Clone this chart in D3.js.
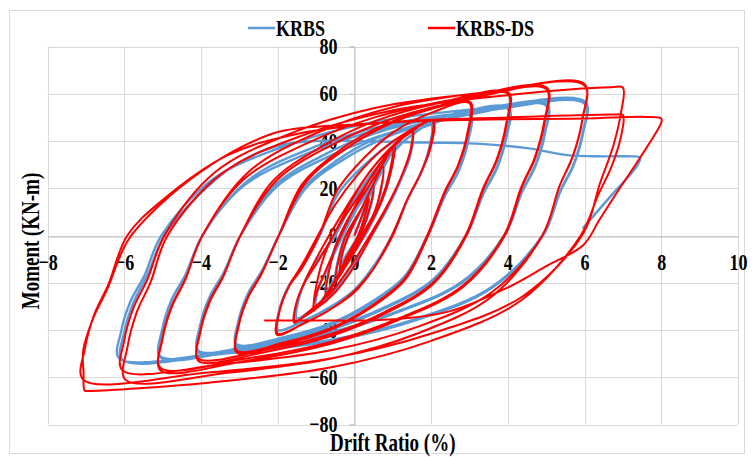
<!DOCTYPE html>
<html>
<head>
<meta charset="utf-8">
<script src="https://cdn.jsdelivr.net/npm/d3@7"></script>
<style>
  body { margin: 0; background: #fff; }
  text { font-family: "Liberation Serif", "Times New Roman", serif; font-weight: bold; fill: #000; }
</style>
</head>
<body>
<div id="chart"></div>
<script>
const W = 753, H = 457;
const margin = { top: 46.5, right: 15, bottom: 32.5, left: 47.5 };

const xTicks = [-8, -6, -4, -2, 0, 2, 4, 6, 8, 10];
const yTicks = [-80, -60, -40, -20, 0, 20, 40, 60, 80];
const seriesNames = ["KRBS", "KRBS-DS"];
const seriesColors = ["#5B9BD5", "#FF0000"];

// KRBS: drift ratio (%), moment (kN-m)
const krbs = [
  [0,0],[0.2,8],[0.375,15],
  [0.3,9.5],[0.1,0],[-0.2,-8],[-0.375,-13],
  [-0.3,-6],[-0.15,0],[0.2,11],[0.5,19],
  [0.42,12],[0.2,2],[-0.2,-9],[-0.5,-18],
  [-0.42,-10],[-0.25,-1],[0.2,11],[0.75,27],
  [0.68,18],[0.5,8],[0.1,-2],[-0.3,-12],[-0.75,-24],
  [-0.66,-14],[-0.48,-4],[-0.2,5],[0.3,17],[0.7,27],[1,35],
  [0.92,25],[0.7,14],[0.35,2],[0,-7],[-0.5,-19],[-1,-30],
  [-0.95,-23],[-0.7,-14],[-0.3,0],[0.15,14],[0.6,27],[1.0,35],[1.5,42],
  [1.46,34],[1.2,23],[0.85,11],[0.45,0],[0,-12],[-0.5,-23],[-1.0,-30],[-1.5,-35],
  [-1.45,-27],[-1.25,-18],[-0.9,-9],[-0.5,0],[-0.05,14],[0.45,26],[0.95,35],[1.45,42],[2.0,47],
  [1.95,37],[1.72,26],[1.38,15],[0.98,0],[0.5,-13],[0,-23],[-0.6,-30],[-1.3,-36],[-2.0,-40],
  [-1.95,-31],[-1.7,-21],[-1.35,-13],[-0.9,0],[-0.43,17.5],[0.27,30],[1.05,40],[2.0,47],[3,51],
  [2.95,40],[2.7,27],[2.35,17],[1.9,0],[1.3,-17.5],[0.41,-28.5],[-0.59,-37],[-1.83,-43],[-3.07,-46],
  [-3.02,-36],[-2.77,-24.4],[-2.42,-15.2],[-1.97,0],[-1.37,19.4],[-0.47,31.6],[0.52,40.8],[1.77,47.4],[3.02,51.5],
  [2.97,40.2],[2.72,27.3],[2.37,17],[1.92,0],[1.32,-17.9],[0.42,-29.1],[-0.58,-37.6],[-1.82,-43.7],[-3.07,-47],
  [-3.02,-36.7],[-2.77,-24.9],[-2.42,-15.5],[-1.97,0],[-1.25,20.3],[-0.18,33.2],[1.02,42.8],[2.51,49.8],[4,53.5],
  [3.95,41.7],[3.7,28.4],[3.35,17.7],[2.9,0],[2.06,-18.5],[0.81,-30.2],[-0.59,-39],[-2.33,-45.3],[-4.07,-48.7],
  [-4.02,-38],[-3.77,-25.8],[-3.42,-16.1],[-2.97,0],[-2.13,20.5],[-0.87,33.5],[0.53,43.2],[2.27,50.2],[4.02,54],
  [3.97,42.1],[3.72,28.6],[3.37,17.8],[2.92,0],[2.08,-18.8],[0.82,-30.7],[-0.57,-39.6],[-2.32,-46],[-4.07,-49.5],
  [-4.02,-38.6],[-3.77,-26.2],[-3.42,-16.3],[-2.97,0],[-2.01,20.9],[-0.58,34.1],[1.02,44],[3.0,51.2],[5,55],
  [4.95,42.9],[4.7,29.2],[4.35,18.2],[3.9,0],[2.82,-19.4],[1.21,-31.6],[-0.58,-40.8],[-2.82,-47.4],[-5.06,-51],
  [-5.01,-39.8],[-4.76,-27],[-4.41,-16.8],[-3.96,0],[-2.88,21.1],[-1.27,34.4],[0.53,44.4],[2.78,51.6],[5.02,55.5],
  [4.97,43.3],[4.72,29.4],[4.37,18.3],[3.92,0],[2.84,-19.6],[1.22,-31.9],[-0.57,-41.2],[-2.81,-47.9],[-5.06,-51.5],
  [-5.01,-40.2],[-4.76,-27.3],[-4.41,-17],[-3.96,0],[-2.76,23.4],[-0.97,37.9],[1.02,47.4],[3.51,53],[6,55.8],
  [5.95,43.5],[5.7,29.6],[5.35,18.4],[4.9,0],[3.58,-21.8],[1.59,-35.4],[-0.62,-44.2],[-3.37,-49.4],[-6.13,-52],
  [-6.08,-40.6],[-5.83,-27.6],[-5.48,-17.2],[-5.03,0],[-3.7,23.7],[-1.71,38.4],[0.5,48],[3.26,53.7],[6.02,56.5],
  [5.97,44.1],[5.72,29.9],[5.37,18.6],[4.92,0],[3.6,-22],[1.63,-35.7],[-0.57,-44.6],[-3.31,-49.9],[-6.05,-52.5],
  [-6.0,-41],[-5.75,-28],[-5.4,-17],[-4.95,0],[-4.0,18],[-3.0,31],[-2.0,38],[-1.0,40],[0,40],[1.5,39.5],[3,39],
  [4.5,37],[5.55,34],[6.5,33.5],[7.2,33.5],[7.45,33],[7.35,29],[6.7,17],[5.95,3]
];

// KRBS-DS: drift ratio (%), moment (kN-m)
const krbsDS = [
  [0,0],[0.2,8.5],[0.375,16],
  [0.3,10],[0.1,0],[-0.2,-9],[-0.375,-15],
  [-0.3,-7],[-0.15,0],[0.2,12],[0.5,21],
  [0.42,13],[0.2,2],[-0.2,-10],[-0.5,-20],
  [-0.42,-11],[-0.25,-1],[0.2,12],[0.75,29],
  [0.68,19],[0.5,9],[0.1,-2],[-0.3,-13],[-0.75,-26],
  [-0.66,-15],[-0.48,-4],[-0.2,6],[0.3,19],[0.7,29],[1,37],
  [0.92,27],[0.7,15],[0.35,3],[0,-7],[-0.5,-20],[-1.05,-31],
  [-0.95,-18],[-0.75,-7],[-0.45,3],[0,14],[0.5,26],[1.05,38],
  [0.95,27],[0.72,15],[0.35,3],[0,-6],[-0.5,-19],[-1.07,-32],
  [-1.0,-25],[-0.75,-15],[-0.35,0],[0.1,15],[0.6,29],[1.0,37],[1.5,44],
  [1.46,36],[1.2,24],[0.85,12],[0.45,0],[0,-13],[-0.5,-24],[-1.0,-31],[-1.55,-36],
  [-1.5,-28],[-1.25,-18],[-0.8,-4],[-0.4,7],[0.1,20],[0.6,31],[1.0,38],[1.52,44.5],
  [1.47,36],[1.2,24],[0.8,11],[0.4,0],[-0.1,-13],[-0.6,-24],[-1.1,-31],[-1.57,-37],
  [-1.52,-29],[-1.3,-20],[-0.95,-11],[-0.55,0],[-0.1,14],[0.4,27],[0.9,36],[1.45,43.5],[2.03,48.7],
  [1.98,38],[1.75,27],[1.4,16],[1.0,0],[0.5,-14],[0,-24],[-0.6,-31],[-1.3,-37],[-2.0,-41.5],
  [-1.95,-32],[-1.72,-22],[-1.35,-12],[-0.95,0],[-0.5,13],[0.1,26],[0.7,36],[1.35,43.5],[2.05,48.5],
  [2.0,38],[1.75,27],[1.4,16],[0.98,0],[0.5,-14],[-0.1,-25],[-0.7,-32],[-1.35,-37.5],[-2.02,-42],
  [-1.97,-33],[-1.72,-22],[-1.37,-14],[-0.92,0],[-0.45,19],[0.26,33],[1.04,44],[2.02,52],[3,56],
  [2.95,43.7],[2.7,29.7],[2.35,18.5],[1.9,0],[1.3,-18.5],[0.41,-30.2],[-0.59,-39],[-1.83,-45.3],[-3.07,-48.7],
  [-3.02,-38],[-2.77,-25.8],[-2.42,-16],[-1.97,0],[-1.37,21.5],[-0.47,35],[0.52,45],[1.77,52.5],[3.02,56.5],
  [2.97,44],[2.72,30],[2.37,18.6],[1.92,0],[1.32,-18.8],[0.42,-30.7],[-0.58,-39.6],[-1.82,-46],[-3.07,-49.5],
  [-3.02,-38.6],[-2.77,-26.2],[-2.42,-16.3],[-1.97,0],[-1.25,22.8],[-0.18,37.2],[1.02,48],[2.51,55.8],[4,60],
  [3.95,46.8],[3.7,31.8],[3.35,19.8],[2.9,0],[2.06,-19.8],[0.81,-32.2],[-0.59,-41.6],[-2.33,-48.4],[-4.07,-52],
  [-4.02,-40.6],[-3.77,-27.6],[-3.42,-17.2],[-2.97,0],[-2.13,23],[-0.87,37.5],[0.53,48.4],[2.27,56.3],[4.02,60.5],
  [3.97,47.2],[3.72,32],[3.37,20],[2.92,0],[2.08,-20.1],[0.82,-32.9],[-0.57,-42.4],[-2.32,-49.3],[-4.07,-53],
  [-4.02,-41.3],[-3.77,-28.1],[-3.42,-17.5],[-2.97,0],[-2.01,23.6],[-0.58,38.4],[1.02,49.6],[3.0,57.7],[5,62],
  [4.95,48.4],[4.7,32.9],[4.35,20.5],[3.9,0],[2.82,-21.3],[1.21,-34.7],[-0.58,-44.8],[-2.82,-52.1],[-5.06,-56],
  [-5.01,-43.7],[-4.76,-29.7],[-4.41,-18.5],[-3.96,0],[-2.88,23.8],[-1.27,38.8],[0.53,50],[2.78,58.1],[5.02,62.5],
  [4.97,48.8],[4.72,33.1],[4.37,20.6],[3.92,0],[2.84,-21.7],[1.22,-35.3],[-0.57,-45.6],[-2.81,-53],[-5.06,-57],
  [-5.01,-44.5],[-4.76,-30.2],[-4.41,-18.8],[-3.96,0],[-2.76,26.9],[-0.97,43.5],[1.02,54.4],[3.51,60.8],[6,64],
  [5.95,49.9],[5.7,33.9],[5.35,21.1],[4.9,0],[3.59,-23.9],[1.62,-38.8],[-0.58,-48.5],[-3.31,-54.2],[-6.05,-57],
  [-6.0,-44.5],[-5.75,-30.2],[-5.4,-18.8],[-4.95,0],[-3.64,26.7],[-1.66,43.2],[0.53,54],[3.26,60.3],[6,63.5],
  [5.95,49.5],[5.7,33.7],[5.35,21],[4.9,0],[3.6,-25.6],[1.64,-41.5],[-0.54,-51.9],[-3.25,-58],[-5.97,-61],
  [-5.92,-47.6],[-5.67,-32.3],[-5.32,-20.1],[-4.87,0],[-3.45,26.3],[-1.31,42.6],[1.07,53.2],[4.03,59.5],[6.7,62.8],[7,62.6],
  [6.95,52],[6.75,38],[6.4,22],[5.97,1],[4.4,-25.6],[2.01,-41.5],[-0.59,-51.9],[-3.83,-58],[-7.07,-61],
  [-7.02,-47.6],[-6.77,-33],[-6.42,-21],[-5.92,0],[-5.0,15],[-3.3,34],[-1.5,43],[1.0,48],[4.0,50],[6.8,51.2],[7,51],
  [6.95,42],[6.7,29],[6.35,17],[5.9,0],[4.34,-27.5],[2.0,-44.6],[-0.6,-55.8],[-3.8,-62.3],[-6.9,-65.8],[-7.03,-65.6],
  [-7.06,-58],[-7.07,-48.7],[-6.8,-34.7],[-6.45,-23],[-5.9,-2],[-5.0,14],[-4.0,27],[-3.0,37],[-1.94,44],[0,47],[3,49],[6,49.5],[7.6,50.2],[8,49.5],
  [8.0,47.8],[7.45,33],[6.93,20.3],[6.4,7],[5.97,-4],[5.0,-13],[4.0,-22],[2.5,-32],[1.0,-35.5],[-1,-36],[-2.35,-36]
];

const seriesData = [krbs, krbsDS];

const svg = d3.select("#chart").append("svg")
    .attr("width", W)
    .attr("height", H);

svg.append("rect")
    .attr("width", W).attr("height", H)
    .attr("fill", "#fff");

// chart area border
svg.append("rect")
    .attr("x", 9.5).attr("y", 10.5)
    .attr("width", 735).attr("height", 443)
    .attr("fill", "none")
    .attr("stroke", "#d9d9d9");

const x = d3.scaleLinear().domain([-8, 10]).range([margin.left, W - margin.right]);
const y = d3.scaleLinear().domain([-80, 80]).range([H - margin.bottom, margin.top]);

const TY = 1.3; // text in the original is drawn tall and narrow

// gridlines
svg.append("g").selectAll("line")
    .data(xTicks)
    .join("line")
    .attr("x1", d => Math.round(x(d)) + 0.5).attr("x2", d => Math.round(x(d)) + 0.5)
    .attr("y1", y(80)).attr("y2", y(-80))
    .attr("stroke", "#d9d9d9");

svg.append("g").selectAll("line")
    .data(yTicks)
    .join("line")
    .attr("x1", x(-8)).attr("x2", x(10))
    .attr("y1", d => Math.round(y(d)) + 0.5).attr("y2", d => Math.round(y(d)) + 0.5)
    .attr("stroke", "#d9d9d9");

// axes through the origin
const yAxis = svg.append("g")
    .attr("transform", `translate(${Math.round(x(0)) + 0.5},0)`)
    .call(d3.axisLeft(y).tickValues(yTicks).tickSize(5).tickPadding(12));
yAxis.select(".domain").attr("stroke", "#bfbfbf");
yAxis.selectAll(".tick line").attr("stroke", "#bfbfbf");
yAxis.selectAll(".tick text")
    .attr("font-size", 18)
    .attr("font-family", "Liberation Serif")
    .attr("font-weight", "bold")
    .attr("fill", "#000")
    .attr("dy", "0.3em")
    .attr("transform", `scale(1,${TY})`);

const xAxis = svg.append("g")
    .attr("transform", `translate(0,${Math.round(y(0)) + 0.5})`)
    .call(d3.axisBottom(x).tickValues(xTicks).tickSize(0));
xAxis.select(".domain").attr("stroke", "#bfbfbf");
xAxis.selectAll(".tick text")
    .attr("font-size", 18)
    .attr("font-family", "Liberation Serif")
    .attr("font-weight", "bold")
    .attr("fill", "#000")
    .attr("y", 25.5)
    .attr("dy", 0)
    .attr("transform", `scale(1,${TY})`);

// hysteresis curves
const line = d3.line()
    .x(d => x(d[0]))
    .y(d => y(d[1]))
    .curve(d3.curveCatmullRom.alpha(0.5));

svg.append("g").selectAll("path")
    .data(seriesData)
    .join("path")
    .attr("d", line)
    .attr("fill", "none")
    .attr("stroke", (d, i) => seriesColors[i])
    .attr("stroke-width", (d, i) => i === 0 ? 2.4 : 2)
    .attr("stroke-linejoin", "round");

// legend
const legendX = [248, 428];
const legend = svg.append("g").selectAll("g")
    .data(seriesNames)
    .join("g")
    .attr("transform", (d, i) => `translate(${legendX[i]},28)`);
legend.append("line")
    .attr("x1", 0).attr("x2", 27)
    .attr("stroke", (d, i) => seriesColors[i])
    .attr("stroke-width", 2.5);
legend.append("text")
    .attr("x", 28)
    .attr("y", 0)
    .attr("dy", "0.33em")
    .attr("font-size", 18)
    .attr("transform", `scale(1,${TY})`)
    .text(d => d);

// axis titles
svg.append("text")
    .attr("text-anchor", "middle")
    .attr("font-size", 19)
    .attr("transform", `translate(${(x(-8) + x(10)) / 2},451) scale(1,${TY})`)
    .text("Drift Ratio (%)");

svg.append("text")
    .attr("text-anchor", "middle")
    .attr("font-size", 19)
    .attr("transform", `translate(39,241) rotate(-90) scale(1,${TY})`)
    .text("Moment (KN-m)");
</script>
</body>
</html>
